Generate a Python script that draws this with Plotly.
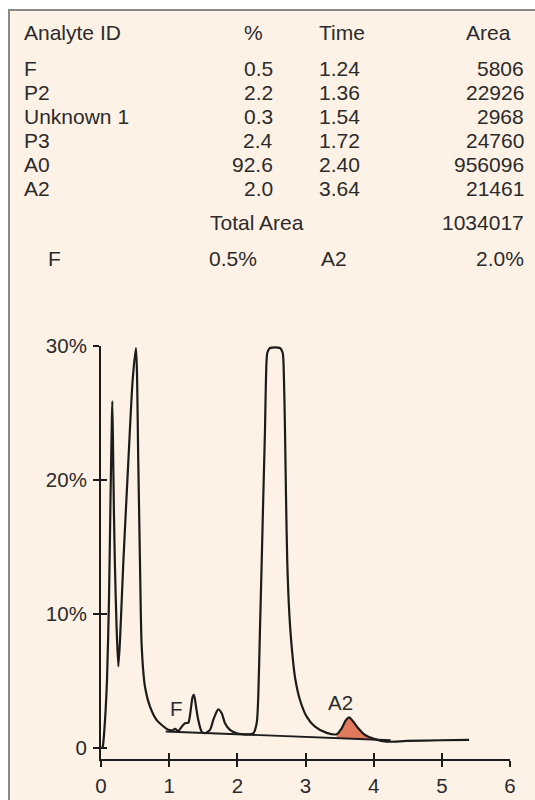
import plotly.graph_objects as go

# ---- peak table ----
analyte_ids = ["F", "P2", "Unknown 1", "P3", "A0", "A2"]
percents = ["0.5", "2.2", "0.3", "2.4", "92.6", "2.0"]
times = ["1.24", "1.36", "1.54", "1.72", "2.40", "3.64"]
areas = ["5806", "22926", "2968", "24760", "956096", "21461"]
total_area = "1034017"
summary = [("F", "0.5%"), ("A2", "2.0%")]

# ---- chromatogram trace (time in minutes, signal in %) ----
chrom_t = [0.02, 0.03, 0.059, 0.088, 0.117, 0.139, 0.157, 0.166, 0.178, 0.19,
           0.205, 0.227, 0.254, 0.279, 0.327, 0.40, 0.465, 0.513, 0.547, 0.572,
           0.597, 0.645, 0.719, 0.817, 0.964, 1.012, 1.05, 1.086, 1.134, 1.184,
           1.232, 1.281, 1.316, 1.345, 1.364, 1.394, 1.427, 1.477, 1.526, 1.599,
           1.647, 1.697, 1.721, 1.771, 1.819, 1.892, 1.991, 2.137, 2.234, 2.284,
           2.307, 2.332, 2.357, 2.381, 2.406, 2.42, 2.44, 2.479, 2.552, 2.626,
           2.665, 2.684, 2.699, 2.714, 2.733, 2.762, 2.797, 2.846, 2.919, 3.017,
           3.139, 3.31, 3.457, 3.531, 3.594, 3.642, 3.701, 3.774, 3.873, 3.994,
           4.19, 4.485, 4.973, 5.4]
chrom_y = [0.0, 0.25, 2.1, 5.1, 11.1, 18.5, 23.8, 25.9, 22.0, 17.5,
           13.5, 9.3, 6.1, 8.1, 13.8, 21.3, 27.5, 29.85, 21.3, 13.8,
           7.6, 4.6, 3.1, 2.1, 1.45, 1.35, 1.33, 1.45, 1.3, 1.61,
           1.87, 1.91, 2.86, 3.85, 3.98, 3.1, 2.11, 1.24, 1.12, 1.37,
           2.11, 2.73, 2.91, 2.61, 1.87, 1.37, 1.12, 1.04, 1.12, 1.87,
           3.85, 8.83, 13.8, 18.8, 23.8, 27.5, 29.5, 29.85, 29.9, 29.85,
           29.5, 27.5, 23.8, 18.8, 13.8, 10.1, 7.6, 5.3, 3.6, 2.36,
           1.61, 1.15, 1.05, 1.49, 2.11, 2.31, 1.99, 1.49, 0.99, 0.72,
           0.49, 0.55, 0.6, 0.63]

# integration baseline drawn under the small peaks
baseline_t = [0.95, 4.25]
baseline_y = [1.25, 0.6]

# A2 peak integration window and its baseline ends
a2_window = (3.457, 3.994)
a2_base_t = [3.994, 3.457]
a2_base_y = [0.66, 0.76]

# peak labels on the trace
peak_labels = [("F", 1.11, 2.95), ("A2", 3.51, 3.45)]

x_ticks = [0, 1, 2, 3, 4, 5, 6]
y_ticks = [0, 10, 20, 30]
y_ticktext = ["0", "10%", "20%", "30%"]

# ---- style ----
FONT = "Liberation Sans, Arial, Helvetica, sans-serif"
TEXT = "#2b2b2b"
INK = "#1c1c1c"
PANEL = "#fdf2e5"
A2_FILL = "#e07a5b"

W, H = 535, 800
M_L, M_R, M_T, M_B = 101, 25, 346, 41
PW, PH = W - M_L - M_R, H - M_T - M_B
X_RANGE = [0, 6]
Y_RANGE = [-0.8, 30]


def px(x):
    """pixel column -> paper x"""
    return (x - M_L) / PW


def py(y):
    """pixel row -> paper y"""
    return (H - M_B - y) / PH


fig = go.Figure()

# A2 area shading: peak outline closed along its baseline
sel = [i for i, t in enumerate(chrom_t) if a2_window[0] <= t <= a2_window[1]]
fig.add_trace(go.Scatter(
    x=[chrom_t[i] for i in sel] + a2_base_t,
    y=[chrom_y[i] for i in sel] + a2_base_y,
    mode="lines", fill="toself", fillcolor=A2_FILL,
    line=dict(width=0, shape="spline", smoothing=0.7),
    hoverinfo="skip", showlegend=False))

fig.add_trace(go.Scatter(
    x=baseline_t, y=baseline_y, mode="lines",
    line=dict(color=INK, width=1.8), hoverinfo="skip", showlegend=False))

fig.add_trace(go.Scatter(
    x=chrom_t, y=chrom_y, mode="lines",
    line=dict(color=INK, width=2.2, shape="spline", smoothing=0.7),
    showlegend=False))

# invisible trace to carry the inner tick axes
fig.add_trace(go.Scatter(x=[None], y=[None], xaxis="x2", yaxis="y2",
                         showlegend=False, hoverinfo="skip"))

for txt, t, v in peak_labels:
    fig.add_annotation(x=t, y=v, text=txt, showarrow=False,
                       font=dict(family=FONT, size=20.5, color=TEXT))


# ---- table text ----
def label(text, x, y, anchor):
    fig.add_annotation(xref="paper", yref="paper", x=px(x), y=py(y),
                       text=text, showarrow=False, xanchor=anchor,
                       yanchor="middle",
                       font=dict(family=FONT, size=21, color=TEXT))


label("Analyte ID", 22, 32, "left")
label("%", 253.5, 32, "center")
label("Time", 317, 32, "left")
label("Area", 512.5, 32, "right")

row_y = [68.5, 92.5, 116.5, 140.5, 164.5, 188.5]
for rid, pct, tm, ar, yy in zip(analyte_ids, percents, times, areas, row_y):
    label(rid, 22, yy, "left")
    label(pct, 275, yy, "right")
    label(tm, 317, yy, "left")
    label(ar, 525.5, yy, "right")

label("Total Area", 208, 222, "left")
label(total_area, 525.5, 222, "right")

label(summary[0][0], 46, 258.5, "left")
label(summary[0][1], 207, 258.5, "left")
label(summary[1][0], 319, 258.5, "left")
label(summary[1][1], 525.5, 258.5, "right")

# ---- panel with grey frame on top/left ----
fig.add_shape(type="rect", xref="paper", yref="paper", layer="below",
              x0=px(9), x1=px(W + 10), y0=py(H + 10), y1=py(10),
              fillcolor=PANEL, line=dict(color="#8a8a8a", width=2))

axis_font = dict(family=FONT, size=20.5, color=TEXT)
fig.update_layout(
    width=W, height=H,
    margin=dict(l=M_L, r=M_R, t=M_T, b=M_B, pad=0, autoexpand=False),
    paper_bgcolor="white", plot_bgcolor="rgba(0,0,0,0)",
    showlegend=False,
    xaxis=dict(range=X_RANGE, tickvals=x_ticks, ticks="outside", ticklen=6,
               tickwidth=2, tickcolor=INK, showline=True, linecolor=INK,
               linewidth=2, showgrid=False, zeroline=False, automargin=False,
               tickfont=axis_font, ticklabelstandoff=1, fixedrange=True),
    yaxis=dict(range=Y_RANGE, tickvals=y_ticks, ticktext=y_ticktext,
               ticks="outside", ticklen=6, tickwidth=2, tickcolor=INK,
               showline=True, linecolor=INK, linewidth=2, showgrid=False,
               zeroline=False, tickfont=axis_font, ticklabelstandoff=2,
               automargin=False, fixedrange=True),
    xaxis2=dict(range=X_RANGE, tickvals=x_ticks, overlaying="x", anchor="y2",
                side="bottom", ticks="inside", ticklen=6, tickwidth=2,
                tickcolor=INK, showticklabels=False, showline=False,
                showgrid=False, zeroline=False, automargin=False,
                fixedrange=True),
    yaxis2=dict(range=Y_RANGE, tickvals=y_ticks, overlaying="y", anchor="x2",
                side="left", ticks="inside", ticklen=6, tickwidth=2,
                tickcolor=INK, showticklabels=False, showline=False,
                showgrid=False, zeroline=False, automargin=False,
                fixedrange=True),
)

fig.write_html("out.html")
